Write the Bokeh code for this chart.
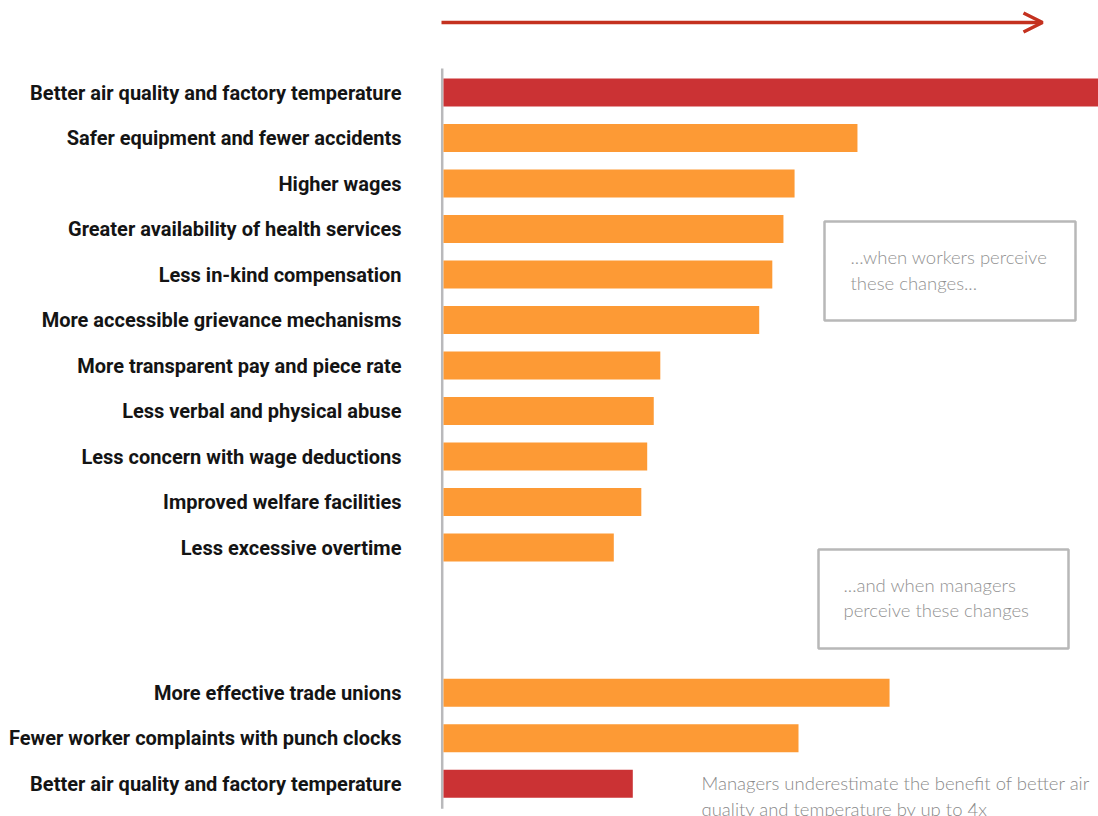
from bokeh.plotting import figure
from bokeh.models import (Range1d, FixedTicker, BoxAnnotation, Label, Arrow,
                          OpenHead, ColumnDataSource, CustomJSTickFormatter)
from bokeh.embed import file_html
from bokeh.resources import INLINE

# ---------------- data ----------------
worker_labels = [
    "Better air quality and factory temperature",
    "Safer equipment and fewer accidents",
    "Higher wages",
    "Greater availability of health services",
    "Less in-kind compensation",
    "More accessible grievance mechanisms",
    "More transparent pay and piece rate",
    "Less verbal and physical abuse",
    "Less concern with wage deductions",
    "Improved welfare facilities",
    "Less excessive overtime",
]
worker_values = [115.6, 63.2, 53.6, 51.9, 50.2, 48.2, 33.1, 32.1, 31.1, 30.2, 26.0]

manager_labels = [
    "More effective trade unions",
    "Fewer worker complaints with punch clocks",
    "Better air quality and factory temperature",
]
manager_values = [68.1, 54.2, 28.9]

highlight_label = "Better air quality and factory temperature"

# ---------------- style ----------------
ORANGE = "#FD9A35"
RED = "#CB3234"
ARROW_RED = "#C4311F"
GREY_LINE = "#B9B9BB"
NOTE_GREY = "#929292"
LABEL_FONT = "Roboto"
NOTE_FONT = "'Lato Light', Lato, sans-serif"

# layout helpers (page pixel -> data)
PX_PER_UNIT = 6.55
ROW_PX = 45.5
def xv(px):
    return (px - 443) / PX_PER_UNIT
def yv(py):
    return (py - 92) / ROW_PX

GROUP_GAP = 3.19
worker_pos = list(range(len(worker_labels)))
manager_pos = [worker_pos[-1] + GROUP_GAP + i for i in range(len(manager_labels))]

labels = worker_labels + manager_labels
values = worker_values + manager_values
positions = worker_pos + manager_pos
colors = [RED if l == highlight_label else ORANGE for l in labels]

src = ColumnDataSource(dict(y=positions, v=values, c=colors))

p = figure(width=1098, height=816, output_backend="svg", toolbar_location=None,
           x_range=Range1d(xv(440), xv(1098)), y_range=Range1d(yv(816), yv(0)),
           x_axis_type=None, min_border_left=440, min_border_right=0,
           min_border_top=0, min_border_bottom=0)
p.outline_line_color = None
p.grid.visible = False
p.background_fill_color = "white"
p.border_fill_color = "white"

# axis with the category labels
ax = p.yaxis[0]
ax.ticker = FixedTicker(ticks=positions)
ax.formatter = CustomJSTickFormatter(args=dict(labs=labels), code="return labs[index];")
ax.axis_line_color = None
ax.major_tick_line_color = None
ax.minor_tick_line_color = None
ax.major_tick_out = 0
ax.major_tick_in = 0
ax.major_label_standoff = 39
ax.major_label_text_font = LABEL_FONT
ax.major_label_text_font_style = "bold"
ax.major_label_text_font_size = "20px"
ax.major_label_text_color = "#141414"

# vertical baseline
p.segment(x0=[xv(441.7)], x1=[xv(441.7)], y0=[positions[0] - 0.53],
          y1=[positions[-1] + 0.55], line_color=GREY_LINE, line_width=2.5)

# bars
p.hbar(y="y", left=0, right="v", height=0.615, fill_color="c", line_color=None, source=src)

# top arrow
p.add_layout(Arrow(x_start=xv(441), y_start=yv(22), x_end=xv(1042), y_end=yv(22),
                   line_color=ARROW_RED, line_width=3.5,
                   end=OpenHead(size=19, line_color=ARROW_RED, line_width=3.5)))

# note boxes
for l, r, t, b in [(824, 1075, 221, 320), (818, 1068, 549, 648)]:
    p.add_layout(BoxAnnotation(left=xv(l), right=xv(r), top=yv(t), bottom=yv(b),
                               fill_alpha=0, line_color="#B8B8B8", line_width=2.5,
                               line_alpha=1))

notes = [
    (850, 256, "...when workers perceive"),
    (850, 282, "these changes..."),
    (843, 584, "...and when managers"),
    (843, 609, "perceive these changes"),
]
for x, y, t in notes:
    p.add_layout(Label(x=xv(x), y=yv(y), text=t, text_font=NOTE_FONT,
                       text_font_size="18.5px", text_color=NOTE_GREY,
                       text_baseline="middle", text_align="left"))

for x, y, t in [(701, 782, "Managers underestimate the benefit of better air"),
                (701, 808, "quality and temperature by up to 4x")]:
    p.add_layout(Label(x=xv(x), y=yv(y), text=t, text_font=NOTE_FONT,
                       text_font_size="18.5px", text_color="#8A8A8A",
                       text_baseline="middle", text_align="left"))

open("out.html", "w").write(file_html(p, INLINE))
